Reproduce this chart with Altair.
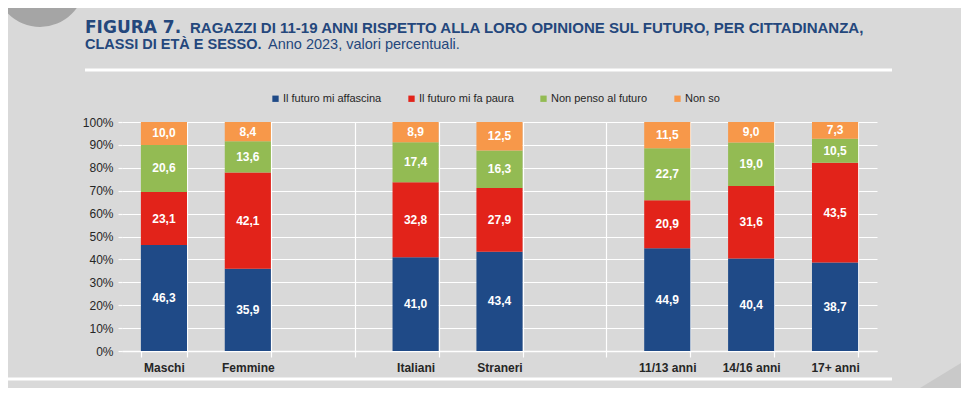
import altair as alt
import pandas as pd

# ---- data ----
slots = ["Maschi", "Femmine", " ", "Italiani", "Straneri", "  ", "11/13 anni", "14/16 anni", "17+ anni"]
groups = ["Maschi", "Femmine", "Italiani", "Straneri", "11/13 anni", "14/16 anni", "17+ anni"]
series = ["Il futuro mi affascina", "Il futuro mi fa paura", "Non penso al futuro", "Non so"]
affascina = [46.3, 35.9, 41.0, 43.4, 44.9, 40.4, 38.7]
paura = [23.1, 42.1, 32.8, 27.9, 20.9, 31.6, 43.5]
non_penso = [20.6, 13.6, 17.4, 16.3, 22.7, 19.0, 10.5]
non_so = [10.0, 8.4, 8.9, 12.5, 11.5, 9.0, 7.3]
y_ticks = [0, 0.1, 0.2, 0.3, 0.4, 0.5, 0.6, 0.7, 0.8, 0.9, 1.0]

colors = ["#1f4a87", "#e2231a", "#93bb53", "#f7984a"]
NAVY = "#24477c"
BG = "#d9d9d9"
SANS = "Liberation Sans Narrow, Arial Narrow, Liberation Sans, Arial, sans-serif"

rows = []
for i, g in enumerate(groups):
    for k, (s, vals) in enumerate(zip(series, [affascina, paura, non_penso, non_so])):
        v = vals[i]
        rows.append({"cat": g, "serie": s, "order": k, "value": v,
                     "label": f"{v:.1f}".replace(".", ",")})
df = pd.DataFrame(rows)

W, H = 755, 229

base = alt.Chart(df).transform_stack(
    stack="value", groupby=["cat"], as_=["y0", "y1"],
    sort=[alt.SortField("order", order="ascending")], offset="normalize"
).transform_calculate(mid="(datum.y0 + datum.y1) / 2")

xscale = alt.Scale(domain=slots, paddingInner=0.45, paddingOuter=0.225)
yscale = alt.Scale(domain=[0, 1], nice=False)

xaxis = alt.Axis(title=None, labelAngle=0, labelFont=SANS, labelFontSize=12,
                 labelFontWeight="bold", labelColor="#262626", labelPadding=5,
                 tickBand="extent", grid=True, gridColor="white", gridWidth=1.2,
                 domainColor="white", domainWidth=1.5, tickColor="white",
                 tickSize=6, tickWidth=1.2)
yaxis = alt.Axis(title=None, values=y_ticks, format=".0%",
                 labelFont=SANS, labelFontSize=12, labelColor="#262626",
                 labelPadding=5, labelOverlap=False,
                 grid=True, gridColor="white", gridWidth=1.2, domain=False,
                 tickColor="white", tickSize=4, tickWidth=1.2)

bars = base.mark_bar().encode(
    x=alt.X("cat:N", sort=slots, scale=xscale, axis=xaxis),
    y=alt.Y("y0:Q", scale=yscale, axis=yaxis),
    y2="y1:Q",
    color=alt.Color("serie:N", scale=alt.Scale(domain=series, range=colors),
                    legend=alt.Legend(title=None, orient="none", legendX=148, legendY=-29,
                                      direction="horizontal", columns=4, symbolType="square",
                                      symbolSize=40, symbolStrokeWidth=0, labelFont=SANS,
                                      labelFontSize=11, labelColor="#262626",
                                      columnPadding=24, labelOffset=2)),
    order=alt.Order("order:Q"),
)

labels = base.mark_text(color="white", font=SANS, fontSize=12, fontWeight="bold",
                        baseline="middle").encode(
    x=alt.X("cat:N", sort=slots, scale=xscale, axis=xaxis),
    y=alt.Y("mid:Q", scale=yscale, axis=yaxis),
    text="label:N")

one = pd.DataFrame({"d": [0]})

title1a = alt.Chart(one).mark_text(text="FIGURA 7.", font="DejaVu Sans", fontWeight="bold",
                                   fontSize=17, color=NAVY, align="left",
                                   baseline="alphabetic").encode(
    x=alt.value(-37), y=alt.value(-89))
title1b = alt.Chart(one).mark_text(
    text="RAGAZZI DI 11-19 ANNI RISPETTO ALLA LORO OPINIONE SUL FUTURO, PER CITTADINANZA,",
    font=SANS, fontWeight="bold", fontSize=15, color=NAVY, align="left",
    baseline="alphabetic").encode(x=alt.value(68), y=alt.value(-89))
title2a = alt.Chart(one).mark_text(text="CLASSI DI ETÀ E SESSO.", font=SANS, fontWeight="bold",
                                   fontSize=14.5, color=NAVY, align="left",
                                   baseline="alphabetic").encode(
    x=alt.value(-37), y=alt.value(-73))
title2b = alt.Chart(one).mark_text(text="Anno 2023, valori percentuali.", font=SANS,
                                   fontSize=14.5, color=NAVY, align="left",
                                   baseline="alphabetic").encode(
    x=alt.value(146), y=alt.value(-73))

rule_top = alt.Chart(one).mark_rule(color="white", strokeWidth=3).encode(
    x=alt.value(-37), x2=alt.value(770), y=alt.value(-52))
rule_bottom = alt.Chart(one).mark_rule(color="white", strokeWidth=3).encode(
    x=alt.value(-120), x2=alt.value(770), y=alt.value(257))

circle = alt.Chart(one).mark_point(shape="circle", filled=True, size=8100, color="#a5a5a5",
                                   opacity=1).encode(x=alt.value(-82), y=alt.value(-140))
tri = alt.Chart(one).mark_point(shape="M-1,1 L1,-0.22 L1,1 Z", filled=True, size=10000,
                                color="#c9c9c9", opacity=1).encode(
    x=alt.value(848), y=alt.value(216))

chart = alt.layer(circle, tri, rule_top, rule_bottom, title1a, title1b, title2a, title2b,
                  bars, labels).properties(
    width=W, height=H,
    autosize=alt.AutoSizeParams(type="none"),
    padding={"left": 114, "top": 114, "right": 84, "bottom": 37},
    background=BG,
).configure_view(stroke=None)

chart.save("out.html", embed_options={"renderer": "svg", "actions": False})
